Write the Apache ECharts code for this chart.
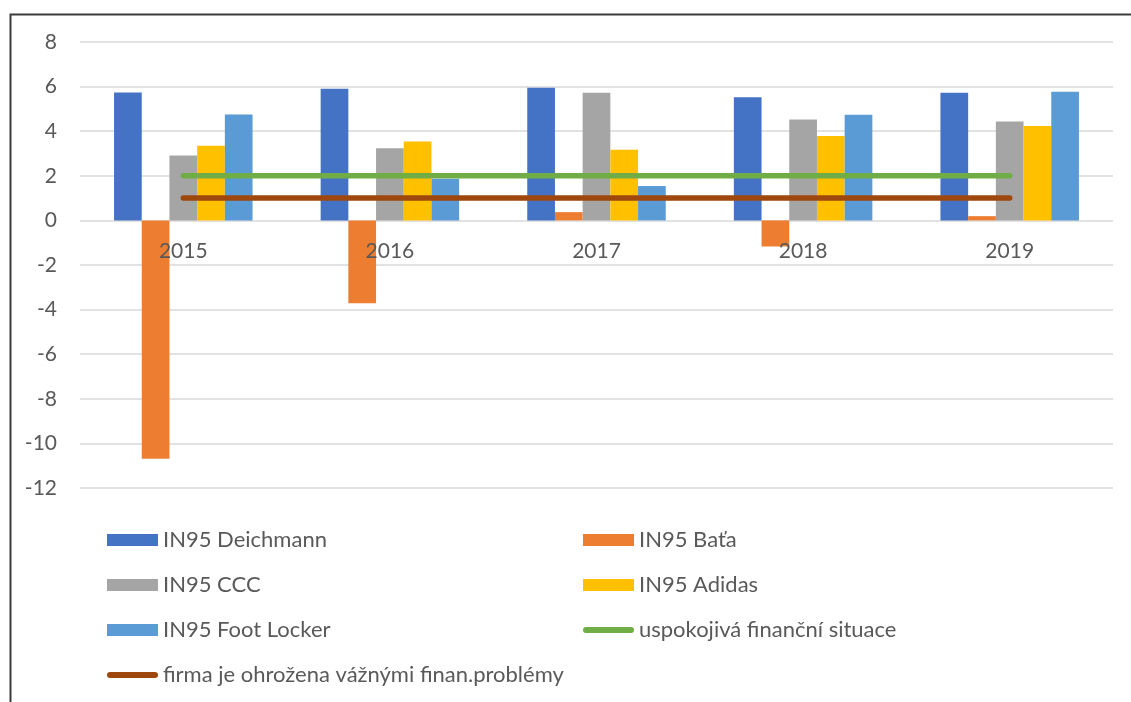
<!DOCTYPE html>
<html>
<head>
<meta charset="utf-8">
<script src="https://cdn.jsdelivr.net/npm/echarts@6/dist/echarts.min.js"></script>
<style>
html,body{margin:0;padding:0;background:#fff;}
#c{width:1131px;height:702px;}
</style>
</head>
<body>
<div id="c"></div>
<script>
const categories = ['2015', '2016', '2017', '2018', '2019'];
const deichmann = [5.74, 5.90, 5.95, 5.52, 5.72];
const bata = [-10.69, -3.72, 0.37, -1.17, 0.19];
const ccc = [2.91, 3.24, 5.72, 4.53, 4.44];
const adidas = [3.35, 3.54, 3.17, 3.78, 4.23];
const footLocker = [4.75, 1.87, 1.54, 4.74, 5.77];
const satisfactory = [2, 2, 2, 2, 2];
const threatened = [1, 1, 1, 1, 1];
const yTicks = { min: -12, max: 8, interval: 2 };
const names = {
  deichmann: 'IN95 Deichmann',
  bata: 'IN95 Baťa',
  ccc: 'IN95 CCC',
  adidas: 'IN95 Adidas',
  footLocker: 'IN95 Foot Locker',
  satisfactory: 'uspokojivá finanční situace',
  threatened: 'firma je ohrožena vážnými finan.problémy'
};

const FONT = 'Lato';
const TXT = '#595959';
const lineIcon = 'path://M3,0 L48,0 A3,3 0 0 1 48,6 L3,6 A3,3 0 0 1 3,0 Z';

function bar(name, data, color) {
  return {
    name, type: 'bar', data, barWidth: 27.7, barGap: '0%',
    itemStyle: { color }, z: 2
  };
}
function line(name, data, color) {
  return {
    name, type: 'line', data, symbol: 'none', z: 4,
    lineStyle: { color, width: 5.5, cap: 'round' },
    itemStyle: { color }
  };
}

const legendCommon = {
  orient: 'vertical', top: 523, itemWidth: 51, itemHeight: 12, itemGap: 21,
  textStyle: { fontFamily: FONT, fontSize: 22, color: TXT, lineHeight: 24 },
  itemStyle: { borderWidth: 0 }
};

const chart = echarts.init(document.getElementById('c'), null, { renderer: 'canvas' });
chart.setOption({
  animation: false,
  backgroundColor: '#fff',
  graphic: [{
    type: 'rect', left: 8, top: 12, z: -1,
    shape: { x: 0, y: 0, width: 1300, height: 900 },
    style: { fill: 'none', stroke: '#3a3a3a', lineWidth: 2 }
  }],
  grid: { left: 80, right: 18, top: 42, bottom: 214 },
  xAxis: {
    type: 'category', data: categories, z: 5,
    axisLine: { show: false, onZero: false },
    axisTick: { show: false },
    axisLabel: { fontFamily: FONT, fontSize: 21, color: TXT, margin: -247 }
  },
  yAxis: {
    type: 'value', min: yTicks.min, max: yTicks.max, interval: yTicks.interval,
    axisLine: { show: false }, axisTick: { show: false },
    axisLabel: { fontFamily: FONT, fontSize: 21, color: TXT, margin: 23 },
    splitLine: { lineStyle: { color: '#d9d9d9', width: 1.5 } }
  },
  legend: [
    Object.assign({}, legendCommon, {
      left: 102,
      data: [
        { name: names.deichmann, icon: 'rect' },
        { name: names.ccc, icon: 'rect' },
        { name: names.footLocker, icon: 'rect' },
        { name: names.threatened, icon: lineIcon }
      ]
    }),
    Object.assign({}, legendCommon, {
      left: 578,
      data: [
        { name: names.bata, icon: 'rect' },
        { name: names.adidas, icon: 'rect' },
        { name: names.satisfactory, icon: lineIcon }
      ]
    })
  ],
  series: [
    bar(names.deichmann, deichmann, '#4472C4'),
    bar(names.bata, bata, '#ED7D31'),
    bar(names.ccc, ccc, '#A5A5A5'),
    bar(names.adidas, adidas, '#FFC000'),
    bar(names.footLocker, footLocker, '#5B9BD5'),
    line(names.satisfactory, satisfactory, '#70AD47'),
    line(names.threatened, threatened, '#9E480E')
  ]
});
</script>
</body>
</html>
